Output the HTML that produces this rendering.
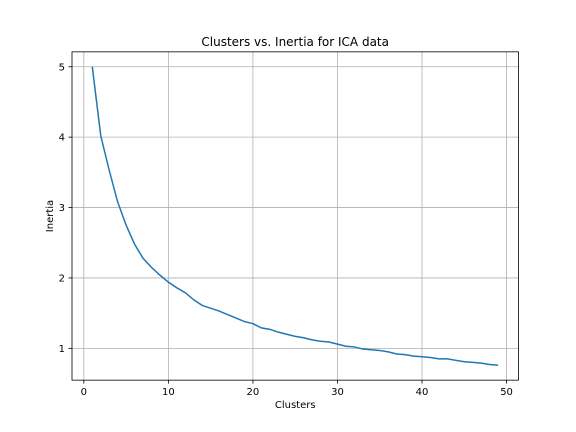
<!DOCTYPE html>
<html><head><meta charset="utf-8"><style>
body{margin:0;background:#fff;}
svg{display:block;font-family:"DejaVu Sans","Liberation Sans",sans-serif;}
</style></head><body>
<svg id="chart" width="576" height="432"></svg>
<script>
const clusters=[];for(let i=1;i<=49;i++)clusters.push(i);
const inertia=[5.0,4.02,3.53,3.08,2.75,2.48,2.28,2.15,2.04,1.94,1.86,1.79,1.69,1.61,1.57,1.53,1.48,1.43,1.38,1.35,1.29,1.27,1.23,1.20,1.17,1.15,1.12,1.10,1.09,1.06,1.03,1.02,0.99,0.98,0.97,0.95,0.92,0.91,0.89,0.88,0.87,0.85,0.85,0.83,0.81,0.80,0.79,0.77,0.76];
const xTicks=[0,10,20,30,40,50];
const yTicks=[1,2,3,4,5];
const L=72,R=518.4,T=51.84,B=380.16;
const xmin=-1.4,xmax=51.4;
const dmin=Math.min(...inertia),dmax=Math.max(...inertia),pad=(dmax-dmin)*0.05;
const ymin=dmin-pad,ymax=dmax+pad;
const X=v=>L+(v-xmin)/(xmax-xmin)*(R-L);
const Y=v=>B-(v-ymin)/(ymax-ymin)*(B-T);
const svg=document.getElementById('chart');
const NS='http://www.w3.org/2000/svg';
function mk(tag,attrs,parent){const e=document.createElementNS(NS,tag);for(const k in attrs)e.setAttribute(k,attrs[k]);(parent||svg).appendChild(e);return e;}
const grid=mk('g',{});


xTicks.forEach(t=>{
  const x=X(t);
  mk('line',{x1:x,x2:x,y1:T,y2:B,stroke:'#b0b0b0','stroke-width':0.8},grid);
  mk('line',{x1:x,x2:x,y1:B,y2:B+3.5,stroke:'#000','stroke-width':0.8});
  const tx=mk('text',{x:x,y:B+15,'text-anchor':'middle','font-size':10});
  tx.textContent=t;
  
  
});
yTicks.forEach(t=>{
  const y=Y(t);
  mk('line',{x1:L,x2:R,y1:y,y2:y,stroke:'#b0b0b0','stroke-width':0.8},grid);
  mk('line',{x1:L-3.5,x2:L,y1:y,y2:y,stroke:'#000','stroke-width':0.8});
  const tx=mk('text',{x:L-7,y:y+3.5,'text-anchor':'end','font-size':10});
  tx.textContent=t;
  
  
});
const line=mk('polyline',{points:clusters.map((c,i)=>X(c)+','+Y(inertia[i])).join(' '),fill:'none',stroke:'#1f77b4','stroke-width':1.5});


const frame=mk('rect',{x:L,y:T,width:R-L,height:B-T,fill:'none',stroke:'#000','stroke-width':0.8});


const title=mk('text',{x:(L+R)/2,y:T-6,'text-anchor':'middle','font-size':12});
title.textContent='Clusters vs. Inertia for ICA data';


const xl=mk('text',{x:(L+R)/2,y:B+28,'text-anchor':'middle','font-size':10});
xl.textContent='Clusters';


const yl=mk('text',{x:0,y:0,'text-anchor':'middle','font-size':10,transform:`translate(53,${(T+B)/2}) rotate(-90)`});
yl.textContent='Inertia';


</script>
</body></html>
